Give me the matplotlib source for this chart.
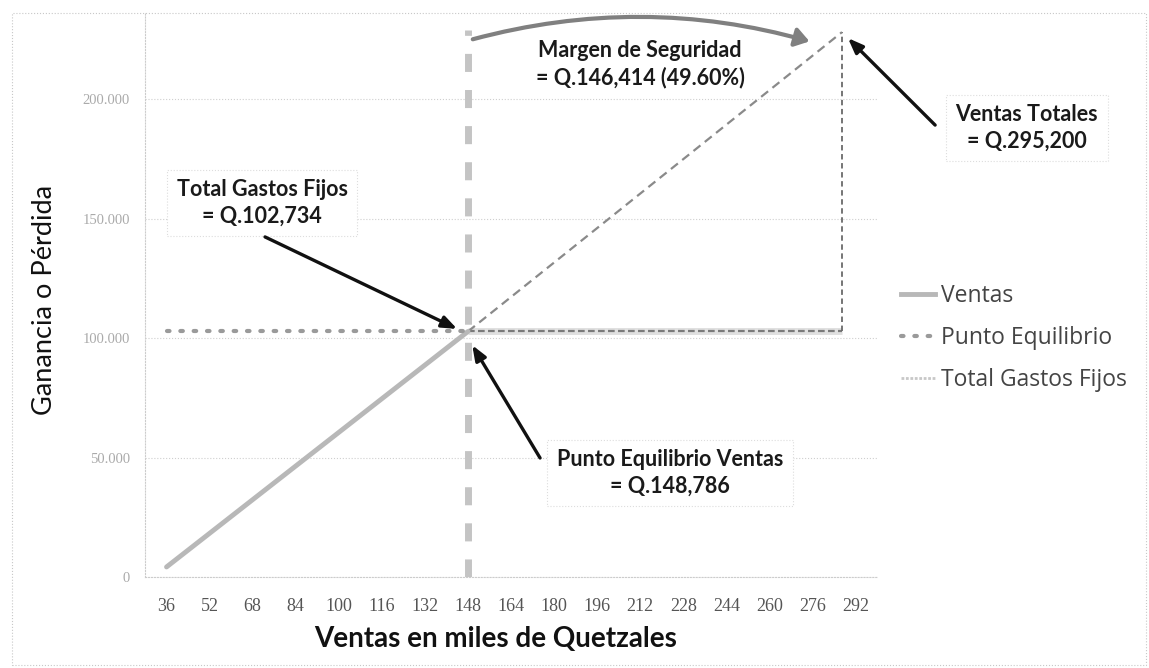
import matplotlib
matplotlib.use("Agg")
import matplotlib.pyplot as plt
from matplotlib.lines import Line2D
from matplotlib.patches import Rectangle, FancyArrowPatch

# ---- data ----
x_ticks = [36, 52, 68, 84, 100, 116, 132, 148, 164, 180, 196, 212, 228, 244, 260, 276, 292]
y_ticks = [0, 50000, 100000, 150000, 200000]
y_tick_labels = ["0", "50.000", "100.000", "150.000", "200.000"]

ventas_x = [36, 148]
ventas_y = [4200, 102734]
ventas_ext_x = [148, 287]
ventas_ext_y = [102734, 228000]
punto_x = [36, 148]
punto_y = [102734, 102734]
gastos_x = [148, 287]
gastos_y = [102734, 102734]
equilibrio_x = 148
total_x = 287
vert_eq_y = [0, 229000]
vert_tot_y = [102734, 228000]

fig = plt.figure(figsize=(11.49, 6.68), dpi=100)
fig.patches.append(Rectangle((12/1149, 3/668), 1134/1149, 652/668, transform=fig.transFigure,
                             fill=False, ec="#c8c8c8", lw=0.8, ls=":"))
ax = fig.add_axes([145/1149, 91/668, 732/1149, 564/668])
ax.set_xlim(28, 300)
ax.set_ylim(0, 236000)

# grid
for yv in y_ticks:
    ax.axhline(yv, color="#cfcfcf", lw=0.8, ls=":", zorder=0)

# lines
ax.plot(gastos_x, gastos_y, color="#e0e0e0", lw=5, solid_capstyle="butt", zorder=2)
ax.plot(gastos_x, gastos_y, color="#7a7a7a", lw=1.6, dashes=(3, 1.5), zorder=3)
ax.plot([total_x, total_x], vert_tot_y, color="#6a6a6a", lw=1.3, dashes=(3, 2), zorder=3)
ax.plot([equilibrio_x, equilibrio_x], vert_eq_y, color="#c4c4c4", lw=5, dashes=(2.6, 2.6), zorder=2)
ax.plot(ventas_ext_x, ventas_ext_y, color="#8a8a8a", lw=1.6, dashes=(4, 2.5), zorder=3)
ax.plot(ventas_x, ventas_y, color="#b8b8b8", lw=3.5, solid_capstyle="round", zorder=4)
ax.plot(punto_x, punto_y, color="#9a9a9a", lw=3, linestyle=(0, (0.6, 2.6)),
        dash_capstyle="round", zorder=4)

# axes styling
ax.set_xticks(x_ticks)
ax.set_xticklabels([str(v) for v in x_ticks], fontfamily="Liberation Serif", fontsize=13, color="#555555")
ax.set_yticks(y_ticks)
ax.set_yticklabels(y_tick_labels, fontfamily="Liberation Serif", fontsize=10.5, color="#aaaaaa")
ax.tick_params(axis="x", length=0, pad=15)
ax.tick_params(axis="y", length=0, pad=11)
for s in ["top", "right"]:
    ax.spines[s].set_visible(False)
for s in ["left", "bottom"]:
    ax.spines[s].set_color("#cccccc")
    ax.spines[s].set_linestyle(":")
    ax.spines[s].set_linewidth(0.8)

fig.text(45/1149, 1 - 300/668, "Ganancia o Pérdida", rotation=90, ha="center", va="center",
         fontfamily="Lato", fontsize=19.5, color="#111111")
fig.text(496/1149, 1 - 639/668, "Ventas en miles de Quetzales", ha="center", va="center",
         fontfamily="Lato", fontweight="bold", fontsize=20, color="#111111")

box = dict(boxstyle="square,pad=0.45", fc="white", ec="#dddddd", ls=":", lw=0.8)
tkw = dict(fontfamily="Lato", fontweight="bold", fontsize=15.5, color="#1a1a1a",
           ha="center", va="center", linespacing=1.3, zorder=6)

ax.text(71.5, 156500, "Total Gastos Fijos\n= Q.102,734", bbox=box, **tkw)
ax.text(212, 214600, "Margen de Seguridad\n= Q.146,414 (49.60%)", bbox=dict(box, ec="none"), **tkw)
ax.text(355.7, 187900, "Ventas Totales\n= Q.295,200", bbox=box, clip_on=False, **tkw)
ax.text(223, 43500, "Punto Equilibrio Ventas\n= Q.148,786", bbox=box, **tkw)

akw = dict(arrowstyle="-|>,head_length=0.9,head_width=0.35", color="#111111", lw=2.4,
           shrinkA=0, shrinkB=0)
ax.annotate("", xy=(144, 103800), xytext=(72.6, 142300), arrowprops=akw, zorder=7)
ax.annotate("", xy=(149.6, 97000), xytext=(174.8, 49800), arrowprops=akw, zorder=7)
ax.annotate("", xy=(289.2, 225500), xytext=(321.6, 189100), arrowprops=akw,
            annotation_clip=False, zorder=7)

arc = FancyArrowPatch((148.8, 224700), (275.9, 223800), connectionstyle="arc3,rad=-0.14",
                      arrowstyle="-|>,head_length=0.6,head_width=0.4", color="#808080", lw=3,
                      mutation_scale=14, zorder=7, clip_on=False)
ax.add_patch(arc)

handles = [
    Line2D([], [], color="#b8b8b8", lw=3.5),
    Line2D([], [], color="#9a9a9a", lw=3, linestyle=(0, (0.6, 2.6)), dash_capstyle="round"),
    Line2D([], [], color="#c8c8c8", lw=2, dashes=(1, 0.6)),
]
fig.legend(handles, ["Ventas", "Punto Equilibrio", "Total Gastos Fijos"],
           loc="center left", bbox_to_anchor=(880/1149, 1 - 338/668), frameon=False,
           prop=dict(family="Open Sans", size=16.5), labelcolor="#444444",
           handlelength=1.5, handletextpad=0.25, labelspacing=0.78)

fig.savefig("out.png", dpi=100)
